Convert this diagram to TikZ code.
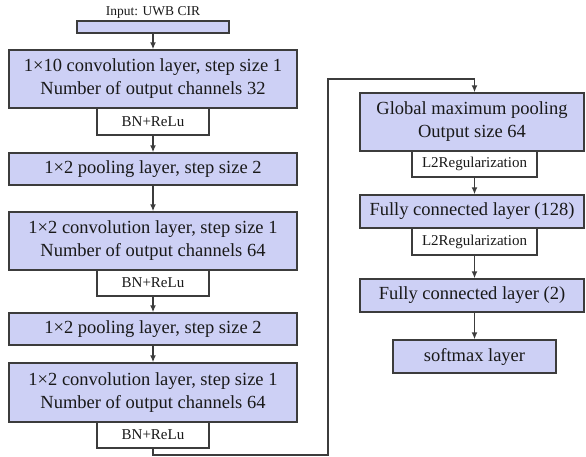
\documentclass[tikz,border=0pt]{standalone}
\usepackage{fontspec}
\setmainfont{Liberation Serif}
\usetikzlibrary{arrows.meta}
\definecolor{boxfill}{RGB}{205,208,245}
\definecolor{edge}{RGB}{60,60,60}
\tikzset{
  bluebox/.style={draw=edge, line width=1.4pt, fill=boxfill, inner sep=0pt, align=center,
    font=\fontsize{18.5}{23}\selectfont, text=black!90},
  whitebox/.style={draw=edge, line width=1.4pt, fill=white, inner sep=0pt, align=center,
    font=\fontsize{15}{18}\selectfont, text=black!90},
  conn/.style={draw=edge, line width=1.4pt},
  arr/.style={conn, -{Latex[length=7pt,width=6pt]}}
}
\begin{document}
\begin{tikzpicture}[x=1pt,y=-1pt]
\useasboundingbox (0,0) rectangle (586,456);
% left column
\node[font=\fontsize{13.5}{16}\selectfont, text=black!90] (inlabel) at (153,12) {Input: UWB CIR};
\node[bluebox, minimum width=152pt, minimum height=12pt] (inbox) at (153,27) {};
\node[bluebox, minimum width=288pt, minimum height=58pt] (conv1) at (153,79) {1×10 convolution layer, step size 1\\Number of output channels 32};
\node[whitebox, minimum width=112pt, minimum height=27pt] (bn1) at (153,121.5) {BN+ReLu};
\node[bluebox, minimum width=288pt, minimum height=32pt] (pool1) at (153,169) {1×2 pooling layer, step size 2};
\node[bluebox, minimum width=288pt, minimum height=58pt] (conv2) at (153,241) {1×2 convolution layer, step size 1\\Number of output channels 64};
\node[whitebox, minimum width=112pt, minimum height=26pt] (bn2) at (153,283) {BN+ReLu};
\node[bluebox, minimum width=288pt, minimum height=32pt] (pool2) at (153,329) {1×2 pooling layer, step size 2};
\node[bluebox, minimum width=288pt, minimum height=59pt] (conv3) at (153,392.5) {1×2 convolution layer, step size 1\\Number of output channels 64};
\node[whitebox, minimum width=112pt, minimum height=26pt] (bn3) at (153,435) {BN+ReLu};
% right column
\node[bluebox, minimum width=224pt, minimum height=58pt] (gmp) at (472,122) {Global maximum pooling\\Output size 64};
\node[whitebox, minimum width=125pt, minimum height=26pt] (l2a) at (474.5,164) {L2Regularization};
\node[bluebox, minimum width=224pt, minimum height=33pt] (fc1) at (472,211.5) {Fully connected layer (128)};
\node[whitebox, minimum width=125pt, minimum height=27pt] (l2b) at (474.5,241.5) {L2Regularization};
\node[bluebox, minimum width=224pt, minimum height=33pt] (fc2) at (472,295.5) {Fully connected layer (2)};
\node[bluebox, minimum width=163pt, minimum height=33pt] (soft) at (474.5,356.5) {softmax layer};
% connectors
\draw[arr] (inbox.south) -- (conv1.north);
\draw[arr] (bn1.south) -- (pool1.north);
\draw[arr] (pool1.south) -- (conv2.north);
\draw[arr] (bn2.south) -- (pool2.north);
\draw[arr] (pool2.south) -- (conv3.north);
\coordinate (c1) at (153,455);
\coordinate (c2) at (328,455);
\coordinate (c3) at (328,79);
\coordinate (c4) at (474.5,79);
\draw[arr] (bn3.south) -- (c1) -- (c2) -- (c3) -- (c4) -- (c4 |- gmp.north);
\draw[arr] (l2a.south) -- (l2a.south |- fc1.north);
\draw[arr] (l2b.south) -- (l2b.south |- fc2.north);
\draw[arr] (soft.north |- fc2.south) -- (soft.north);
\end{tikzpicture}
\end{document}
